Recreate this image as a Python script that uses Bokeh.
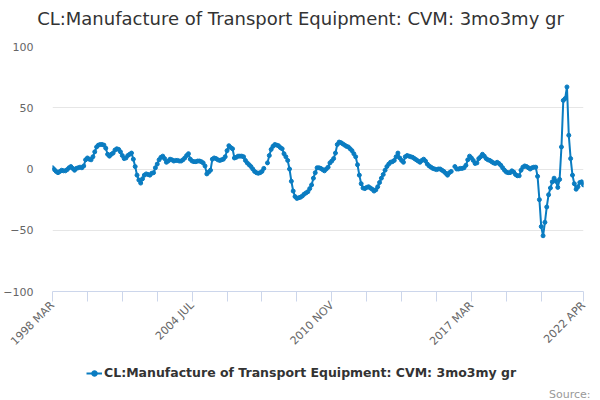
import math
from bokeh.plotting import figure
from bokeh.layouts import column
from bokeh.models import FixedTicker, Legend, LegendItem, ColumnDataSource, Range1d, Label
from bokeh.embed import file_html
from bokeh.resources import INLINE

nan = float("nan")
MONTHS = ["JAN", "FEB", "MAR", "APR", "MAY", "JUN", "JUL", "AUG", "SEP", "OCT", "NOV", "DEC"]
START_YEAR, START_MONTH = 1998, 3
SERIES_NAME = "CL:Manufacture of Transport Equipment: CVM: 3mo3my gr"

v1998 = [1.0, -0.5, -2.0, -3.0, -2.0, -1.0, -1.5, -1.5, -0.5, 1.0]
v1999 = [2.0, 0.5, -1.0, 0.5, 1.0, 1.5, 1.0, 2.5, 7.5, 9.0, 8.0, 7.5]
v2000 = [10.0, 14.0, 18.0, 19.5, 20.0, 20.0, 19.5, 17.0, 12.0, 10.5, 12.0, 13.0]
v2001 = [15.5, 16.5, 16.0, 14.0, 11.0, 8.5, 9.0, 11.0, 12.0, 13.0, 8.0, 2.0]
v2002 = [-5.0, -9.0, -11.5, -8.0, -5.0, -4.0, -4.5, -5.0, -3.5, -3.0, 1.0, 4.0]
v2003 = [7.5, 9.5, 10.5, 8.5, 5.5, 6.5, 8.0, 7.5, 6.5, 7.0, 7.0, 6.5]
v2004 = [6.5, 7.5, 9.0, 11.0, 12.5, 8.0, 6.5, 6.0, 6.0, 6.5, 6.5, 6.0]
v2005 = [5.0, 2.5, -4.0, -2.5, -1.0, 8.0, 9.0, 8.5, 7.5, 7.0, 7.5, 8.0]
v2006 = [10.0, 15.0, 19.0, 17.5, 16.5, 9.0, 9.5, 10.5, 10.5, 10.5, 10.0, 7.0]
v2007 = [5.0, 3.5, 2.0, 0.0, -2.0, -3.0, -3.5, -3.0, -2.0, 0.5, nan, 5.0]
v2008 = [11.0, 16.0, 18.5, 20.0, 19.5, 19.0, 17.5, 16.5, 12.5, 10.0, 7.0, 0.0]
v2009 = [-10.0, -18.0, -22.5, -24.0, -23.5, -23.0, -22.0, -20.5, -19.5, -18.5, -16.0, -13.0]
v2010 = [-7.5, -3.0, 1.0, 1.0, 0.5, -0.5, -1.5, 0.0, 1.5, 5.0, 6.5, 8.5]
v2011 = [13.0, 20.0, 22.0, 21.5, 20.5, 19.5, 18.5, 18.0, 16.5, 15.0, 12.5, 10.0]
v2012 = [3.5, -5.0, -12.0, -15.5, -16.0, -15.0, -14.5, -15.5, -16.5, -18.0, -17.0, -14.5]
v2013 = [-11.0, -7.5, -4.5, -1.0, 2.0, 4.0, 5.5, 6.0, 7.0, 10.0, 13.0, 9.0]
v2014 = [7.0, 5.5, 10.0, 11.0, 10.5, 10.0, 9.5, 8.5, 7.5, 6.5, 5.5, 7.0]
v2015 = [8.0, 6.5, 4.0, 2.5, 1.5, 0.5, 0.0, -0.5, 0.0, 0.0, -1.0, -2.0]
v2016 = [-3.5, -5.0, -3.0, -2.0, nan, 2.0, 0.0, 0.0, 0.5, 0.5, 1.0, 3.0]
v2017 = [7.5, 10.5, 9.0, 7.0, 4.5, 5.0, 8.5, 10.0, 12.0, 10.5, 8.5, 7.5]
v2018 = [7.0, 6.0, 5.0, 4.5, 5.5, 4.5, 3.0, 1.0, -1.0, -2.5, -3.0, -3.0]
v2019 = [-1.5, -2.5, -4.5, -5.5, -5.5, -1.0, 1.5, 2.5, 2.0, 1.0, 0.0, 1.0]
v2020 = [1.5, 1.5, -6.0, -25.0, -47.0, -54.5, -43.5, -31.0, -21.0, -15.5, -10.5, -7.5]
v2021 = [-10.0, -15.0, -8.5, 18.0, 56.0, 57.5, 67.0, 27.5, 8.5, -5.0, -12.0, -16.5]
v2022 = [-14.5, -11.0, -10.5, -13.0]

values = (v1998 + v1999 + v2000 + v2001 + v2002 + v2003 + v2004 + v2005 + v2006 +
          v2007 + v2008 + v2009 + v2010 + v2011 + v2012 + v2013 + v2014 + v2015 +
          v2016 + v2017 + v2018 + v2019 + v2020 + v2021 + v2022)
n = len(values)
idx = list(range(n))
month_labels = [f"{START_YEAR + (START_MONTH - 1 + i) // 12} {MONTHS[(START_MONTH - 1 + i) % 12]}" for i in idx]

x_ticks = list(range(0, 267, 19)) + [n - 1]
x_label_ticks = [0, 76, 152, 228, n - 1]
y_ticks = [-100, -50, 0, 50, 100]

BLUE = "#0a7cc1"
FONT = "DejaVu Sans"


def strip(height):
    f = figure(width=600, height=height, output_backend="svg", toolbar_location=None,
               x_axis_location=None, y_axis_location=None,
               x_range=Range1d(0, 600), y_range=Range1d(0, height),
               min_border_left=0, min_border_right=0, min_border_top=0, min_border_bottom=0)
    f.frame_align = False
    f.outline_line_color = None
    f.grid.visible = False
    f.border_fill_color = "white"
    f.background_fill_color = "white"
    return f


# title strip
t = strip(40)
t.add_layout(Label(x=300, y=22, x_units="screen", y_units="screen", text=SERIES_NAME,
                   text_align="center", text_baseline="middle", text_font=FONT,
                   text_font_size="18px", text_color="#333333"))

# main chart
src = ColumnDataSource(dict(x=idx, y=values, label=month_labels))
p = figure(width=600, height=315, output_backend="svg", toolbar_location=None,
           x_range=Range1d(0, n - 1), y_range=Range1d(-100, 100),
           min_border_left=50, min_border_right=17, min_border_top=6, min_border_bottom=60)
p.frame_align = False
p.outline_line_color = None
p.background_fill_color = "white"
p.border_fill_color = "white"

r_line = p.line("x", "y", source=src, line_color=BLUE, line_width=2)
r_pts = p.scatter("x", "y", source=src, size=4, fill_color=BLUE, line_color=BLUE)

p.xaxis.ticker = FixedTicker(ticks=x_ticks)
p.xaxis.major_label_overrides = {t_: (month_labels[t_] if t_ in x_label_ticks else "") for t_ in x_ticks}
p.xaxis.major_label_orientation = math.pi / 4
p.xaxis.axis_line_color = "#ccd6eb"
p.xaxis.major_tick_line_color = "#ccd6eb"
p.xaxis.major_tick_out = 10
p.xaxis.major_tick_in = 0
p.xaxis.minor_tick_line_color = None
p.xaxis.major_label_text_font = FONT
p.xaxis.major_label_text_font_size = "11px"
p.xaxis.major_label_text_color = "#666666"
p.xaxis.major_label_standoff = 2
p.xgrid.grid_line_color = None

p.yaxis.ticker = FixedTicker(ticks=y_ticks)
p.yaxis.axis_line_color = None
p.yaxis.major_tick_line_color = None
p.yaxis.minor_tick_line_color = None
p.yaxis.major_label_text_font = FONT
p.yaxis.major_label_text_font_size = "11px"
p.yaxis.major_label_text_color = "#666666"
p.yaxis.major_label_standoff = 13
p.ygrid.grid_line_color = "#e6e6e6"

# legend / credits strip
q = strip(45)
k_line = q.line([-50, -40], [-50, -50], line_color=BLUE, line_width=2)
k_pts = q.scatter([-45], [-50], size=4, fill_color=BLUE, line_color=BLUE)
legend = Legend(items=[LegendItem(label=SERIES_NAME, renderers=[k_line, k_pts])],
                location=(86, 20), orientation="horizontal",
                label_text_font=FONT, label_text_font_size="12.5px", label_text_font_style="bold",
                label_text_color="#333333", glyph_width=16, glyph_height=14, label_height=14,
                label_standoff=2, padding=0, margin=0, spacing=0,
                background_fill_alpha=0, border_line_color=None)
q.add_layout(legend)
q.add_layout(Label(x=590, y=6, x_units="screen", y_units="screen", text="Source:",
                   text_align="right", text_baseline="alphabetic", text_font=FONT,
                   text_font_size="11px", text_color="#999999"))

layout = column(t, p, q, spacing=0)
open("out.html", "w").write(file_html(layout, INLINE))
